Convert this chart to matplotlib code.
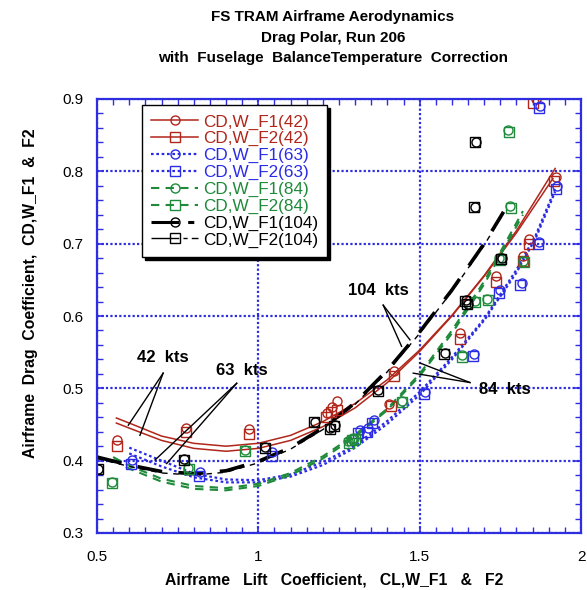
import matplotlib
matplotlib.use("Agg")
import matplotlib.pyplot as plt
from matplotlib.lines import Line2D

plt.rcParams['font.family'] = ['Liberation Sans', 'DejaVu Sans']

RED = '#B0261A'
BLUE = '#2B2BE6'
GREEN = '#1E8A3A'
BLACK = '#000000'
GRIDBLUE = '#2E2EE0'

# ---- measured points: (CL, CD) for each speed / flag ----
cl_f1_42 = [0.561, 0.776, 0.972, 1.212, 1.228, 1.245, 1.404, 1.420, 1.625, 1.736, 1.820, 1.839, 1.922, 1.862]
cd_f1_42 = [0.428, 0.445, 0.444, 0.466, 0.474, 0.482, 0.479, 0.524, 0.577, 0.655, 0.683, 0.707, 0.792, 0.900]
cl_f2_42 = [0.561, 0.776, 0.972, 1.210, 1.226, 1.243, 1.410, 1.420, 1.625, 1.736, 1.820, 1.839, 1.915, 1.852]
cd_f2_42 = [0.420, 0.439, 0.437, 0.461, 0.467, 0.470, 0.475, 0.517, 0.568, 0.647, 0.676, 0.699, 0.787, 0.894]

cl_f1_63 = [0.607, 0.819, 1.041, 1.315, 1.340, 1.358, 1.516, 1.669, 1.749, 1.816, 1.871, 1.926, 1.873]
cd_f1_63 = [0.401, 0.384, 0.412, 0.443, 0.445, 0.456, 0.495, 0.548, 0.636, 0.646, 0.702, 0.780, 0.891]
cl_f2_63 = [0.605, 0.817, 1.041, 1.310, 1.336, 1.352, 1.512, 1.665, 1.745, 1.812, 1.868, 1.924, 1.870]
cd_f2_63 = [0.396, 0.379, 0.406, 0.438, 0.440, 0.452, 0.492, 0.545, 0.632, 0.643, 0.699, 0.775, 0.887]

cl_f1_84 = [0.545, 0.783, 0.959, 1.279, 1.289, 1.296, 1.444, 1.630, 1.671, 1.709, 1.747, 1.820, 1.780, 1.775]
cd_f1_84 = [0.371, 0.390, 0.415, 0.427, 0.430, 0.432, 0.483, 0.546, 0.621, 0.624, 0.680, 0.676, 0.752, 0.857]
cl_f2_84 = [0.547, 0.785, 0.960, 1.280, 1.290, 1.300, 1.446, 1.632, 1.673, 1.711, 1.749, 1.822, 1.782, 1.777]
cd_f2_84 = [0.369, 0.388, 0.413, 0.424, 0.428, 0.430, 0.481, 0.544, 0.619, 0.622, 0.678, 0.674, 0.750, 0.855]

cl_f1_104 = [0.504, 0.770, 1.020, 1.176, 1.222, 1.238, 1.372, 1.578, 1.643, 1.650, 1.754, 1.676, 1.671]
cd_f1_104 = [0.389, 0.402, 0.419, 0.454, 0.445, 0.449, 0.498, 0.549, 0.622, 0.617, 0.680, 0.841, 0.751]
cl_f2_104 = [0.502, 0.770, 1.020, 1.174, 1.222, 1.236, 1.370, 1.576, 1.641, 1.648, 1.752, 1.672, 1.668]
cd_f2_104 = [0.389, 0.401, 0.418, 0.453, 0.444, 0.448, 0.497, 0.548, 0.621, 0.616, 0.679, 0.841, 0.751]

# ---- curve fits (polar lines) ----
fit_cl_42 = [0.56, 0.60, 0.70, 0.80, 0.90, 1.00, 1.10, 1.20, 1.30, 1.40, 1.50, 1.60, 1.70, 1.80, 1.92]
fit_f1_42 = [0.459, 0.452, 0.434, 0.424, 0.420, 0.424, 0.435, 0.454, 0.479, 0.512, 0.553, 0.601, 0.656, 0.718, 0.804]
fit_cl_42b = [0.56, 0.60, 0.70, 0.80, 0.90, 1.00, 1.10, 1.20, 1.30, 1.40, 1.50, 1.60, 1.70, 1.80, 1.913]
fit_f2_42 = [0.452, 0.445, 0.428, 0.417, 0.413, 0.417, 0.428, 0.447, 0.473, 0.508, 0.551, 0.600, 0.655, 0.715, 0.790]

fit_cl_63 = [0.60, 0.70, 0.80, 0.90, 1.00, 1.10, 1.20, 1.30, 1.40, 1.50, 1.60, 1.70, 1.80, 1.86, 1.92]
fit_f1_63 = [0.418, 0.400, 0.382, 0.374, 0.373, 0.381, 0.398, 0.421, 0.455, 0.495, 0.543, 0.596, 0.664, 0.712, 0.776]
fit_f2_63 = [0.410, 0.392, 0.377, 0.370, 0.370, 0.378, 0.394, 0.418, 0.451, 0.491, 0.540, 0.594, 0.660, 0.708, 0.772]

fit_cl_84 = [0.55, 0.60, 0.70, 0.80, 0.90, 1.00, 1.10, 1.20, 1.30, 1.40, 1.50, 1.60, 1.70, 1.82]
fit_f1_84 = [0.405, 0.393, 0.375, 0.365, 0.362, 0.368, 0.383, 0.406, 0.436, 0.472, 0.520, 0.580, 0.648, 0.745]
fit_f2_84 = [0.401, 0.389, 0.371, 0.361, 0.359, 0.365, 0.380, 0.403, 0.433, 0.470, 0.517, 0.576, 0.644, 0.740]

fit_cl_104 = [0.50, 0.60, 0.70, 0.80, 0.90, 1.00, 1.10, 1.20, 1.30, 1.40, 1.50, 1.60, 1.70, 1.76]
fit_f1_104 = [0.405, 0.394, 0.385, 0.382, 0.386, 0.399, 0.418, 0.445, 0.480, 0.525, 0.578, 0.636, 0.700, 0.744]
fit_f2_104 = [0.403, 0.392, 0.383, 0.380, 0.384, 0.397, 0.416, 0.443, 0.478, 0.523, 0.576, 0.634, 0.698, 0.742]

x_ticks = [0.5, 1, 1.5, 2]
x_tick_labels = ['0.5', '1', '1.5', '2']
y_ticks = [0.3, 0.4, 0.5, 0.6, 0.7, 0.8, 0.9]
y_tick_labels = ['0.3', '0.4', '0.5', '0.6', '0.7', '0.8', '0.9']

fig = plt.figure(figsize=(5.87, 5.90), dpi=100)
ax = fig.add_axes([97 / 587, 57 / 590, 484 / 587, 434 / 590])

ms = 6.5
mkw = dict(linestyle='none', markerfacecolor='none', markersize=ms, markeredgewidth=1.0)

# curves
sty = {
    '42': dict(color=RED, linestyle='-', lw=1.1),
    '63': dict(color=BLUE, linestyle=(0, (1.2, 1.2)), lw=1.6),
    '84': dict(color=GREEN, linestyle=(0, (4, 3)), lw=1.5),
    '104a': dict(color=BLACK, linestyle=(0, (7, 4.5)), lw=2.6),
    '104b': dict(color=BLACK, linestyle=(0, (4, 4)), lw=1.0),
}
ax.plot(fit_cl_42, fit_f1_42, **sty['42'])
ax.plot(fit_cl_42b, fit_f2_42, **sty['42'])
ax.plot(fit_cl_63, fit_f1_63, **sty['63'])
ax.plot(fit_cl_63, fit_f2_63, **sty['63'])
ax.plot(fit_cl_84, fit_f1_84, **sty['84'])
ax.plot(fit_cl_84, fit_f2_84, **sty['84'])
ax.plot(fit_cl_104, fit_f2_104, **sty['104b'])
ax.plot(fit_cl_104, fit_f1_104, **sty['104a'])

# measured points
ax.plot(cl_f2_42, cd_f2_42, marker='s', color=RED, **mkw)
ax.plot(cl_f1_42, cd_f1_42, marker='o', color=RED, **mkw)
ax.plot(cl_f2_63, cd_f2_63, marker='s', color=BLUE, **mkw)
ax.plot(cl_f1_63, cd_f1_63, marker='o', color=BLUE, **mkw)
ax.plot(cl_f2_84, cd_f2_84, marker='s', color=GREEN, **mkw)
ax.plot(cl_f1_84, cd_f1_84, marker='o', color=GREEN, **mkw)
ax.plot(cl_f2_104, cd_f2_104, marker='s', color=BLACK, **mkw)
ax.plot(cl_f1_104, cd_f1_104, marker='o', color=BLACK, **mkw)

ax.set_xlim(0.5, 2.0)
ax.set_ylim(0.3, 0.9)
ax.set_xticks(x_ticks)
ax.set_xticklabels(x_tick_labels)
ax.set_yticks(y_ticks)
ax.set_yticklabels(y_tick_labels)
ax.set_xticks([0.5 + 0.05 * i for i in range(31)], minor=True)
ax.set_yticks([0.3 + 0.02 * i for i in range(31)], minor=True)
ax.tick_params(which='both', direction='in', top=True, right=True,
               color=GRIDBLUE, labelcolor='black', labelsize=11)
ax.tick_params(which='major', length=5, width=1.2)
ax.tick_params(which='minor', length=4, width=1.0)
ax.tick_params(axis='x', pad=12)
ax.tick_params(axis='y', pad=10)
for s in ax.spines.values():
    s.set_color(GRIDBLUE)
    s.set_linewidth(1.6)
ax.grid(which='major', color=GRIDBLUE, linestyle=(0, (1, 1)), linewidth=1.6)
ax.set_axisbelow(True)

# leader-line annotations
def callout(text, tx, ty, ox, oy, ends):
    ax.text(tx, ty, text, ha='center', va='center', fontsize=12, fontweight='bold')
    for ex, ey in ends:
        ax.plot([ox, ex], [oy, ey], color='black', lw=1.0)

callout('42  kts', 0.705, 0.542, 0.705, 0.521, [(0.597, 0.449), (0.633, 0.435)])
callout('63  kts', 0.949, 0.524, 0.933, 0.507, [(0.680, 0.401), (0.716, 0.396)])
callout('104  kts', 1.371, 0.635, 1.387, 0.615, [(1.444, 0.558), (1.470, 0.567)])
callout('84  kts', 1.764, 0.499, 1.656, 0.508, [(1.501, 0.535), (1.480, 0.521)])

# legend
labels = ['CD,W_F1(42)', 'CD,W_F2(42)', 'CD,W_F1(63)', 'CD,W_F2(63)',
          'CD,W_F1(84)', 'CD,W_F2(84)', 'CD,W_F1(104)', 'CD,W_F2(104)']
handles = [
    Line2D([], [], marker='o', mfc='none', ms=ms, **sty['42']),
    Line2D([], [], marker='s', mfc='none', ms=ms, **sty['42']),
    Line2D([], [], marker='o', mfc='none', ms=ms, **sty['63']),
    Line2D([], [], marker='s', mfc='none', ms=ms, **sty['63']),
    Line2D([], [], marker='o', mfc='none', ms=ms, **sty['84']),
    Line2D([], [], marker='s', mfc='none', ms=ms, **sty['84']),
    Line2D([], [], marker='o', mfc='none', ms=ms,
           color=BLACK, linestyle=(0, (9, 3, 2, 3)), lw=2.2),
    Line2D([], [], marker='s', mfc='none', ms=ms,
           color=BLACK, linestyle=(0, (20, 3, 3, 3)), lw=1.0),
]
for h in handles:
    h.set_markeredgewidth(1.0)
leg = ax.legend(handles, labels, loc='upper left', bbox_to_anchor=(0.093, 0.986),
                borderaxespad=0, fontsize=12.3, labelcolor='linecolor', numpoints=1,
                handlelength=2.75, handletextpad=0.25, labelspacing=0.1,
                borderpad=0.55, fancybox=False, framealpha=1,
                shadow={'color': 'black', 'alpha': 1})
leg.get_frame().set_edgecolor('black')
leg.get_frame().set_linewidth(1.0)

# titles and axis labels
fig.text(333 / 587, 1 - 17 / 590, 'FS TRAM Airframe Aerodynamics', ha='center', va='center',
         fontsize=11, fontweight='bold')
fig.text(333 / 587, 1 - 38 / 590, 'Drag Polar, Run 206', ha='center', va='center',
         fontsize=11, fontweight='bold')
fig.text(333 / 587, 1 - 58 / 590, 'with  Fuselage  BalanceTemperature  Correction',
         ha='center', va='center', fontsize=11, fontweight='bold')
fig.text(334 / 587, 1 - 580 / 590, 'Airframe   Lift   Coefficient,   CL,W_F1   &   F2',
         ha='center', va='center', fontsize=11.3, fontweight='bold')
fig.text(31 / 587, 1 - 293 / 590, 'Airframe  Drag  Coefficient,  CD,W_F1  &  F2',
         ha='center', va='center', rotation=90, fontsize=11.3, fontweight='bold')

fig.savefig('out.png', dpi=100)
